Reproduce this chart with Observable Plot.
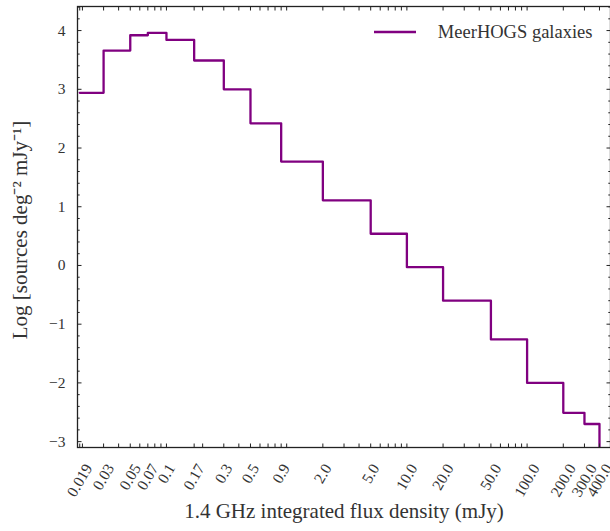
<!DOCTYPE html>
<html><head><meta charset="utf-8">
<script src="https://cdn.jsdelivr.net/npm/d3@7"></script>
<script src="https://cdn.jsdelivr.net/npm/@observablehq/plot@0.6"></script>
<style>
body{margin:0;background:#fff}
g[aria-label="x-title"] text{letter-spacing:1.55px}
g[aria-label="y-title"] text{letter-spacing:2.2px}
g[aria-label="legend-text"] text{letter-spacing:0.3px}
</style>
</head><body><div id="chart"></div>
<script>
// Bin edges (mJy) and log counts per bin
const binEdges = [0.019, 0.03, 0.05, 0.07, 0.1, 0.17, 0.3, 0.5, 0.9, 2.0, 5.0, 10.0, 20.0, 50.0, 100.0, 200.0, 300.0, 400.0];
const logCounts = [2.94, 3.66, 3.92, 3.96, 3.84, 3.49, 3.00, 2.42, 1.77, 1.11, 0.54, -0.03, -0.60, -1.26, -2.00, -2.51, -2.70];
const xTickValues = [0.019, 0.03, 0.05, 0.07, 0.1, 0.17, 0.3, 0.5, 0.9, 2.0, 5.0, 10.0, 20.0, 50.0, 100.0, 200.0, 300.0, 400.0];
const xTickLabels = ["0.019", "0.03", "0.05", "0.07", "0.1", "0.17", "0.3", "0.5", "0.9", "2.0", "5.0", "10.0", "20.0", "50.0", "100.0", "200.0", "300.0", "400.0"];
const yTickValues = [-3, -2, -1, 0, 1, 2, 3, 4];
const seriesName = "MeerHOGS galaxies";
const xLabel = "1.4 GHz integrated flux density (mJy)";
const yLabel = "Log [sources deg\u207B\u00B2 mJy\u207B\u00B9]";

const W = 610, H = 531;
const xDomain = [0.0182, 494];
const yDomain = [-3.1, 4.41];
const FONT = "Liberation Serif";
const TXT = "#333";
const PURPLE = "#800080";

// step data
const stepData = binEdges.map((e, i) => ({edge: e, val: i < logCounts.length ? logCounts[i] : logCounts[logCounts.length - 1]}));
stepData.push({edge: binEdges[binEdges.length - 1], val: yDomain[0]});

// minor log ticks + label ticks
const logMinor = [];
for (let p = -2; p <= 2; p++) for (let m = 1; m <= 9; m++) {
  const v = m * Math.pow(10, p);
  if (v >= xDomain[0] && v <= xDomain[1]) logMinor.push(+v.toPrecision(6));
}
const xTicksAll = Array.from(new Set([...logMinor, ...xTickValues])).sort((a, b) => a - b);
const yMinor = d3.range(-3, 4.41, 0.2).map(v => +v.toFixed(2)).filter(v => Math.abs(v - Math.round(v)) > 1e-6);

const fmtY = d => (d < 0 ? "\u2212" : "") + Math.abs(d);

const tickFs = 15.5;
const ctx = document.createElement("canvas").getContext("2d");
ctx.font = `${tickFs}px "${FONT}"`;

const xLabelMarks = xTickValues.map((v, i) => {
  const L = ctx.measureText(xTickLabels[i]).width;
  const extent = 0.866 * L + 0.5 * 0.7 * tickFs;
  return Plot.text([v], {
    x: d => d, frameAnchor: "bottom", text: () => xTickLabels[i],
    rotate: -60, textAnchor: "middle", lineAnchor: "middle",
    dy: 15 + extent / 2, fontSize: tickFs, fontFamily: FONT, fill: TXT
  });
});

const legendLine = (index, scales, values, dims) => {
  const g = document.createElementNS("http://www.w3.org/2000/svg", "line");
  g.setAttribute("x1", dims.width - 236);
  g.setAttribute("x2", dims.width - 194);
  g.setAttribute("y1", 32);
  g.setAttribute("y2", 32);
  g.setAttribute("stroke", PURPLE);
  g.setAttribute("stroke-width", 2.4);
  return g;
};

const chart = Plot.plot({
  width: W, height: H,
  marginLeft: 77, marginRight: 0, marginTop: 6, marginBottom: 84,
  style: {fontFamily: FONT, background: "#fff"},
  x: {type: "log", domain: xDomain, label: null},
  y: {domain: yDomain, label: null},
  marks: [
    Plot.line(stepData, {x: "edge", y: "val", curve: "step-after", stroke: PURPLE, strokeWidth: 2.3, clip: true}),
    // inward ticks
    Plot.axisX(xTicksAll, {anchor: "bottom", tickSize: 3.5, dy: -3.5, tickFormat: () => "", stroke: "#222", label: null}),
    Plot.axisX(xTicksAll, {anchor: "top", tickSize: 3.5, dy: 3.5, tickFormat: () => "", stroke: "#222", label: null}),
    Plot.axisY(yTickValues, {anchor: "left", tickSize: 4.5, dx: 4.5, tickFormat: () => "", stroke: "#222", label: null}),
    Plot.axisY(yMinor, {anchor: "left", tickSize: 2.7, dx: 2.7, tickFormat: () => "", stroke: "#222", label: null}),
    Plot.axisY(yTickValues, {anchor: "right", tickSize: 4.5, dx: -4.5, tickFormat: () => "", stroke: "#222", label: null}),
    Plot.axisY(yMinor, {anchor: "right", tickSize: 2.7, dx: -2.7, tickFormat: () => "", stroke: "#222", label: null}),
    // y tick labels
    Plot.axisY(yTickValues, {anchor: "left", tickSize: 0, tickPadding: 12, tickFormat: fmtY, fontSize: tickFs, fill: TXT, label: null}),
    ...xLabelMarks,
    Plot.frame({stroke: "#222", strokeWidth: 1.3}),
    // axis titles
    Plot.text([xLabel], {frameAnchor: "bottom", text: d => d, dy: 64, textAnchor: "middle", lineAnchor: "middle", fontSize: 21, fontFamily: FONT, fill: TXT, ariaLabel: "x-title"}),
    Plot.text([yLabel], {frameAnchor: "left", text: d => d, rotate: -90, dx: -57, dy: 3, textAnchor: "middle", lineAnchor: "middle", fontSize: 21, fontFamily: FONT, fill: TXT, ariaLabel: "y-title"}),
    // legend
    legendLine,
    Plot.text([seriesName], {frameAnchor: "top-right", text: d => d, dx: -18, dy: 26, textAnchor: "end", lineAnchor: "middle", fontSize: 18.5, fontFamily: FONT, fill: TXT, ariaLabel: "legend-text"})
  ]
});
document.getElementById("chart").appendChild(chart);
</script>
</body></html>
